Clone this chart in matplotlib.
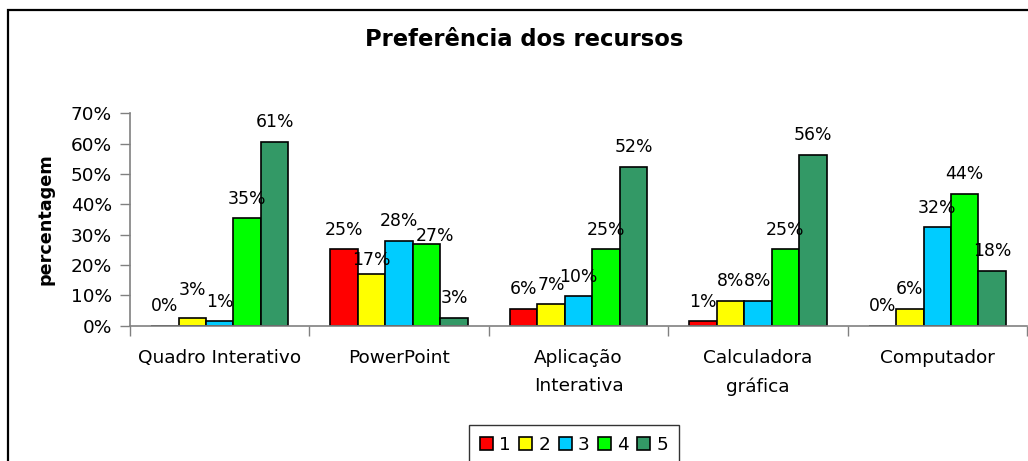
import matplotlib
matplotlib.use("Agg")
import matplotlib.pyplot as plt
from matplotlib.patches import Rectangle
from matplotlib.ticker import FixedLocator, PercentFormatter
import numpy as np

recursos = ["Quadro Interativo", "PowerPoint", "Aplicação\nInterativa",
            "Calculadora\ngráfica", "Computador"]
niveis = ["1", "2", "3", "4", "5"]

# percentagens por nível de preferência (1..5) para cada recurso
nivel_1 = [0.0, 25.3, 5.6, 1.4, 0.0]
nivel_2 = [2.7, 17.1, 7.0, 8.2, 5.6]
nivel_3 = [1.4, 28.0, 9.8, 8.2, 32.4]
nivel_4 = [35.4, 27.0, 25.3, 25.3, 43.5]
nivel_5 = [60.6, 2.6, 52.4, 56.4, 18.1]

cores = ["#FF0000", "#FFFF00", "#00CCFF", "#00FF00", "#339966"]

# rótulos deslocados à mão (nível, recurso) -> (dx, dy) em pontos
ajustes = {(1, 0): (0, 6), (1, 1): (0, -4.3), (3, 1): (6, -8.4)}

plt.rcParams["font.family"] = "DejaVu Sans"

fig = plt.figure(figsize=(10.28, 4.61), dpi=100)
ax = fig.add_axes([130 / 1028, 135.3 / 461, 897 / 1028, 212.4 / 461])

x = np.arange(len(recursos))
largura = 0.153
series = [nivel_1, nivel_2, nivel_3, nivel_4, nivel_5]
for i, (vals, cor, nome) in enumerate(zip(series, cores, niveis)):
    pos = x + (i - 2) * largura
    ax.bar(pos, vals, largura, color=cor, edgecolor="black",
           linewidth=1.2, label=nome)
    for j, (xb, v) in enumerate(zip(pos, vals)):
        dx, dy = ajustes.get((i, j), (0, 0))
        ax.annotate(f"{v:.0f}%", (xb, v), xytext=(dx, 7.5 + dy),
                    textcoords="offset points", ha="center", va="bottom",
                    fontsize=12.4)

ax.set_xlim(-0.5, 4.5)
ax.set_ylim(0, 70)
ax.set_yticks(np.arange(0, 71, 10))
ax.yaxis.set_major_formatter(PercentFormatter(decimals=0))
ax.set_xticks(x)
ax.set_xticklabels(recursos, linespacing=1.7)
ax.xaxis.set_minor_locator(FixedLocator(np.arange(-0.5, 4.6, 1)))
ax.tick_params(axis="x", which="major", length=0, pad=17, labelsize=13.3)
ax.tick_params(axis="x", which="minor", length=7, width=1, color="#808080")
ax.tick_params(axis="y", length=7, width=1, color="#808080", pad=6,
               labelsize=13.3)

for lado in ["top", "right"]:
    ax.spines[lado].set_visible(False)
for lado in ["left", "bottom"]:
    ax.spines[lado].set_color("#808080")
    ax.spines[lado].set_linewidth(1.2)

ax.set_ylabel("percentagem", fontsize=12.7, fontweight="bold", labelpad=12)

fig.text(524 / 1028, 1 - 40 / 461, "Preferência dos recursos",
         ha="center", va="center", fontsize=16.3, fontweight="bold")

leg = fig.legend(loc="upper left", bbox_to_anchor=(469 / 1028, 1 - 425 / 461),
                 ncol=5, fontsize=13.3, frameon=True, fancybox=False,
                 handlelength=0.69, handleheight=0.65, handletextpad=0.35,
                 columnspacing=0.45, borderpad=0.6, borderaxespad=0)
leg.get_frame().set_edgecolor("black")
leg.get_frame().set_linewidth(1.0)

# moldura exterior do gráfico
fig.patches.append(Rectangle((8 / 1028, -0.1), 1.2, 1.1 - 10 / 461,
                             transform=fig.transFigure, fill=False,
                             edgecolor="black", linewidth=1.6))

fig.savefig("out.png", dpi=100)
